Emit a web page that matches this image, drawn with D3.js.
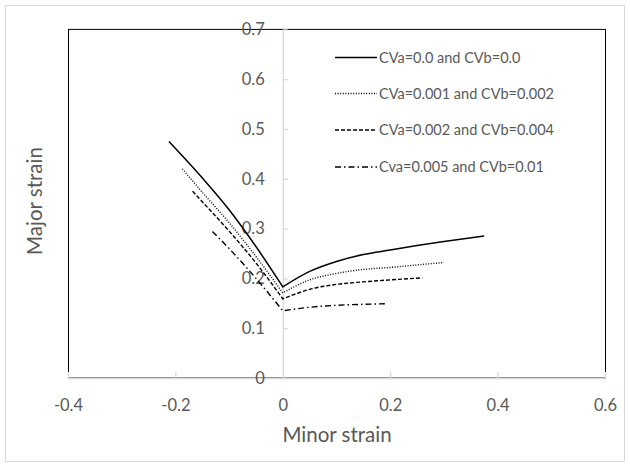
<!DOCTYPE html>
<html><head><meta charset="utf-8">
<script src="https://cdn.jsdelivr.net/npm/d3@7"></script>
<style>body{margin:0;background:#fff}svg text{font-family:Lato,"Open Sans",sans-serif}</style>
</head><body><svg id="c" width="630" height="465"></svg>
<script>
const seriesNames = ["CVa=0.0 and CVb=0.0","CVa=0.001 and CVb=0.002","CVa=0.002 and CVb=0.004","Cva=0.005 and CVb=0.01"];
const minor0 = [-0.212,-0.15,-0.1,-0.05,0,0.05,0.1,0.15,0.2,0.25,0.3,0.375];
const major0 = [0.475,0.402,0.338,0.264,0.183,0.214,0.234,0.248,0.257,0.266,0.274,0.285];
const minor1 = [-0.187,-0.15,-0.1,-0.05,0,0.05,0.1,0.15,0.2,0.25,0.3];
const major1 = [0.42,0.373,0.312,0.244,0.171,0.197,0.21,0.218,0.222,0.227,0.232];
const minor2 = [-0.168,-0.15,-0.1,-0.05,0,0.05,0.1,0.15,0.2,0.26];
const major2 = [0.375,0.354,0.295,0.231,0.159,0.178,0.188,0.193,0.197,0.201];
const minor3 = [-0.131,-0.1,-0.05,0,0.05,0.1,0.15,0.19];
const major3 = [0.294,0.26,0.2,0.135,0.142,0.146,0.148,0.149];
const xTicks = [-0.4,-0.2,0,0.2,0.4,0.6];
const yTicks = [0,0.1,0.2,0.3,0.4,0.5,0.6,0.7];
const dashes = [null,"1,1.6","4,2","6,3,1.5,3"];

const svg = d3.select("#c");
const L=68,R=605,T=29.4,B=378;
const x = d3.scaleLinear().domain([-0.4,0.6]).range([L,R]);
const y = d3.scaleLinear().domain([0,0.7]).range([B,T]);
const grey="#595959", axisCol="#d9d9d9";

svg.append("rect").attr("x",5.5).attr("y",5.5).attr("width",619).attr("height",456)
  .attr("fill","#fff").attr("stroke","#d9d9d9");
svg.append("rect").attr("x",L+0.5).attr("y",T).attr("width",R-L).attr("height",B-T)
  .attr("fill","none").attr("stroke","#000").attr("stroke-width",1);

const fmt = d=>d===0?"0":String(d);
const xa = svg.append("g").attr("transform",`translate(0,${B})`)
  .call(d3.axisBottom(x).tickValues(xTicks).tickFormat(fmt).tickSize(-6).tickSizeOuter(0).tickPadding(21));
const ya = svg.append("g").attr("transform",`translate(${x(0)},0)`)
  .call(d3.axisLeft(y).tickValues(yTicks).tickFormat(fmt).tickSize(-5).tickSizeOuter(0).tickPadding(18));
[xa,ya].forEach(g=>{
  g.selectAll("path,line").attr("stroke",axisCol).attr("stroke-width",1.3);
  g.selectAll("text").attr("fill",grey).attr("font-size",16.5).attr("font-family","Lato");
});

const data = [[minor0,major0],[minor1,major1],[minor2,major2],[minor3,major3]];
const line = d3.line().x(d=>x(d[0])).y(d=>y(d[1])).curve(d3.curveMonotoneX);
data.forEach(([mx,my],i)=>{
  const pts = mx.map((v,j)=>[v,my[j]]);
  const left = pts.filter(p=>p[0]<=0), right = pts.filter(p=>p[0]>=0);
  const path = line(left) + line(right).replace(/^M/,"L");
  svg.append("path").attr("d",path).attr("fill","none").attr("stroke","#000")
    .attr("stroke-width",i===0?1.5:1.4).attr("stroke-dasharray",dashes[i]);
});

const legY = [57.5,93.5,130,167];
seriesNames.forEach((n,i)=>{
  svg.append("line").attr("x1",335).attr("x2",377).attr("y1",legY[i]).attr("y2",legY[i])
    .attr("stroke","#000").attr("stroke-width",i===0?1.5:1.4).attr("stroke-dasharray",dashes[i]);
  svg.append("text").attr("x",379).attr("y",legY[i]).attr("dy","0.36em").attr("fill",grey)
    .attr("font-size",14.5).text(n);
});

svg.append("text").attr("x",337).attr("y",435).attr("dy","0.35em").attr("text-anchor","middle")
  .attr("fill",grey).attr("font-size",20.5).text("Minor strain");
svg.append("text").attr("transform","translate(35,201) rotate(-90)").attr("dy","0.35em")
  .attr("text-anchor","middle").attr("fill",grey).attr("font-size",20.5).text("Major strain");
</script></body></html>
